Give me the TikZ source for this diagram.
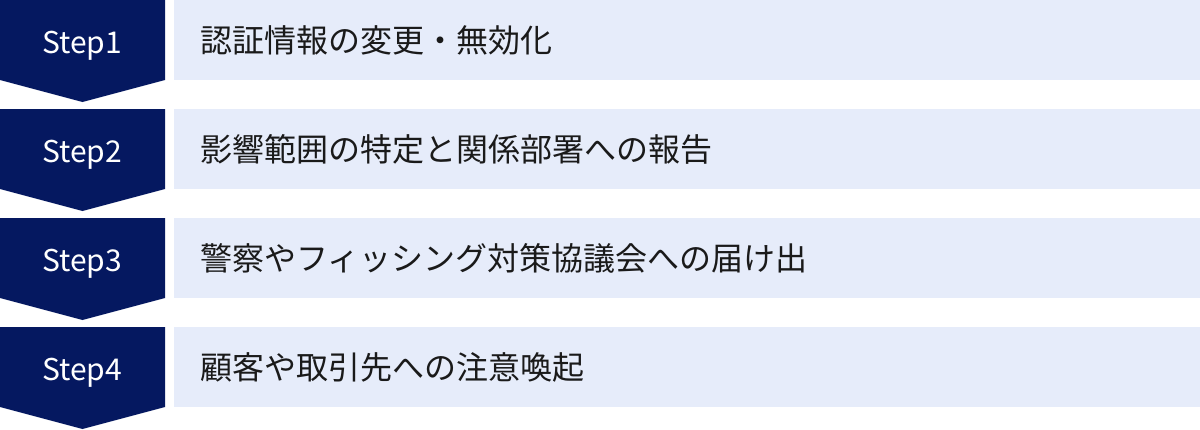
\documentclass[tikz,border=0pt]{standalone}
\usepackage{fontspec}
\setmainfont{Noto Sans CJK JP}
\definecolor{navy}{RGB}{5,24,96}
\definecolor{lightbox}{RGB}{230,236,250}
\definecolor{txt}{RGB}{26,26,26}
\begin{document}
\begin{tikzpicture}[x=1pt,y=-1pt,
  steplabel/.style={text=white,font=\fontsize{30}{30}\selectfont,inner sep=0pt,anchor=base},
  itemlabel/.style={text=txt,font=\fontsize{32}{32}\selectfont,inner sep=0pt,anchor=west}]
\useasboundingbox (0,0) rectangle (1200,429);
\foreach \i/\t/\lab in {1/0/認証情報の変更・無効化,2/109/影響範囲の特定と関係部署への報告,3/218/警察やフィッシング対策協議会への届け出,4/327/顧客や取引先への注意喚起}{
  \fill[navy] (0,\t) -- (165,\t) -- (165,\t+80) -- (82.5,\t+102) -- (0,\t+80) -- cycle;
  \fill[lightbox] (174,\t) rectangle (1200,\t+80);
  \node[steplabel] (s\i) at (82,\t+53.3) {Step\i};
  \node[itemlabel] (t\i) at (200,\t+40) {\lab};
}
\end{tikzpicture}
\end{document}
